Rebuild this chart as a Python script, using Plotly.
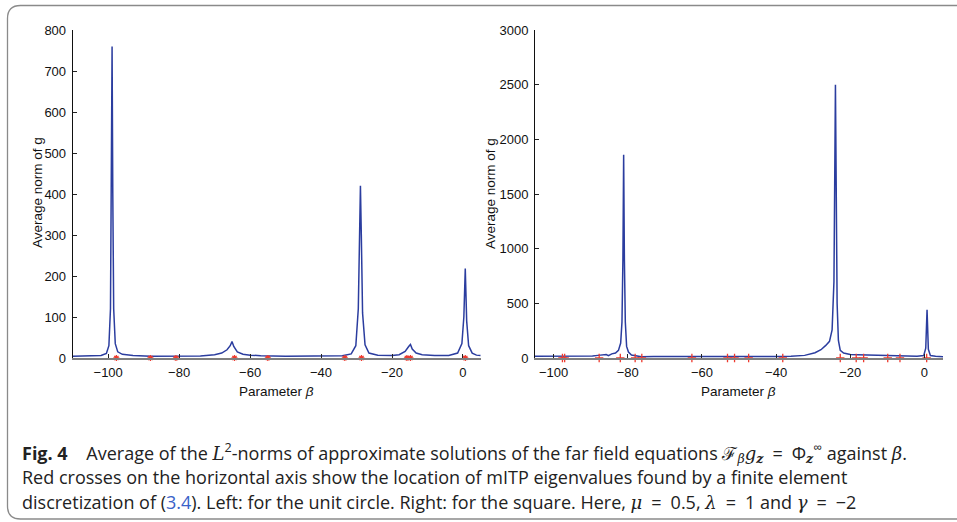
import plotly.graph_objects as go

W, H = 957, 522

# ---------------- data ----------------
left_beta = [-110, -105, -102, -100.5, -99.8, -99.35, -99.1, -98.9, -98.7, -98.45, -98.0, -97.3, -96, -93, -88,
             -80, -74, -70, -68, -66.5, -65.6, -65.1, -64.6, -63.6, -62, -60, -57, -50, -40, -34, -31.5,
             -30.2, -29.5, -29.15, -28.9, -28.65, -28.3, -27.6, -26.5, -24, -20, -18, -16.3, -15.3,
             -14.8, -14.3, -13.2, -11.5, -8, -4, -1.5, -0.3, 0.25, 0.65, 1.05, 1.6, 2.6, 3.8, 5]
left_norm = [4, 4.5, 6, 11, 30, 120, 400, 760, 400, 120, 35, 15, 9, 6, 4.5,
             4, 5, 8, 12, 20, 30, 40, 28, 15, 9, 7, 5.5, 4.5, 4.5, 5.5, 10,
             30, 120, 300, 420, 300, 110, 32, 12, 7, 6, 8, 16, 28,
             33, 22, 12, 8, 6, 6, 12, 35, 100, 218, 90, 30, 12, 7, 6]
left_eig = [-97.7, -88.1, -80.9, -64.4, -55.0, -33.3, -28.6, -15.8, -14.8, 0.65]

right_beta = [-105, -100, -95, -91, -89.5, -88, -86.8, -85.8, -85.2, -84.3, -83.3, -82.5, -81.9, -81.55,
              -81.3, -81.1, -80.9, -80.65, -80.3, -79.8, -79, -78, -76.3, -73, -68, -60, -52, -46,
              -40, -36, -32.3, -29.5, -27.9, -26.6, -25.6, -24.9, -24.4, -24.0, -23.8, -23.55,
              -23.2, -22.7, -21.8, -20, -18, -16.4, -13, -10.2, -7, -4.8, -2, -0.2, 0.35, 0.7,
              1.05, 1.6, 3, 5]
right_norm = [15, 14, 15, 14, 18, 24, 30, 32, 22, 38, 46, 70, 137, 330,
              900, 1860, 900, 330, 106, 55, 28, 20, 12, 14, 13, 14, 12, 13,
              14, 17, 24, 48, 76, 115, 152, 256, 700, 2500, 1500, 500,
              160, 70, 45, 32, 30, 28, 24, 20, 17, 15, 16, 22, 90, 440,
              80, 22, 15, 12]
right_eig = [-97.6, -97.0, -87.7, -82.0, -78.0, -76.2, -62.7, -53.1, -51.2, -47.4, -38.2,
             -22.7, -18.4, -16.4, -9.9, -6.6, 0.6]

left_yticks = [0, 100, 200, 300, 400, 500, 600, 700, 800]
right_yticks = [0, 500, 1000, 1500, 2000, 2500, 3000]
x_ticks = [-100, -80, -60, -40, -20, 0]

# ---------------- figure ----------------
LINE = '#2b3d9f'
RED = '#ee3a2e'
AX_FONT = dict(family='Liberation Sans', size=13, color='#111')

fig = go.Figure()
fig.add_trace(go.Scatter(x=left_beta, y=left_norm, mode='lines', line=dict(color=LINE, width=1.5),
                         xaxis='x', yaxis='y', showlegend=False, hoverinfo='skip'))
fig.add_trace(go.Scatter(x=left_eig, y=[0] * len(left_eig), mode='markers',
                         marker=dict(symbol='asterisk-open', size=5, color=RED, line=dict(color=RED, width=1.3)),
                         xaxis='x', yaxis='y', showlegend=False, cliponaxis=False))
fig.add_trace(go.Scatter(x=right_beta, y=right_norm, mode='lines', line=dict(color=LINE, width=1.5),
                         xaxis='x2', yaxis='y2', showlegend=False, hoverinfo='skip'))
fig.add_trace(go.Scatter(x=right_eig, y=[0] * len(right_eig), mode='markers',
                         marker=dict(symbol='cross-thin-open', size=6, color=RED, line=dict(color=RED, width=1.3)),
                         xaxis='x2', yaxis='y2', showlegend=False, cliponaxis=False))


def px_x(p):
    return p / W


def px_y(p):
    return 1 - p / H


ydom = [px_y(358), px_y(30)]

common_x = dict(showgrid=False, zeroline=False, showline=True, linecolor='#7f7f7f', linewidth=2,
                ticks='inside', ticklen=4, tickcolor='#222', tickwidth=1, tickvals=x_ticks,
                tickfont=AX_FONT, automargin=False, ticklabelstandoff=1)
common_y = dict(showgrid=False, zeroline=False, showline=True, linecolor='#111', linewidth=1,
                ticks='inside', ticklen=4, tickcolor='#222', tickwidth=1, tickfont=AX_FONT,
                domain=ydom, automargin=False, ticklabelstandoff=3)

fig.update_layout(
    template='none',
    width=W, height=H, margin=dict(l=0, r=0, t=0, b=0, pad=0), autosize=False,
    paper_bgcolor='white', plot_bgcolor='white',
    xaxis=dict(common_x, domain=[px_x(72.7), px_x(480.7)], range=[-110, 5], anchor='y'),
    yaxis=dict(common_y, range=[0, 800], tickvals=left_yticks, anchor='x'),
    xaxis2=dict(common_x, domain=[px_x(535), px_x(943)], range=[-105, 5], anchor='y2'),
    yaxis2=dict(common_y, range=[0, 3000], tickvals=right_yticks, anchor='x2'),
)

ann = []
TITLE_FONT = dict(family='Liberation Sans', size=13.5, color='#111')


def label(x, y, text, angle=0, font=TITLE_FONT, xanchor='center'):
    ann.append(dict(x=px_x(x), y=px_y(y), text=text, textangle=angle, showarrow=False,
                    xanchor=xanchor, yanchor='middle', xref='paper', yref='paper', font=font))


label(276, 391, 'Parameter <i>β</i>')
label(738, 391, 'Parameter <i>β</i>')
label(37, 193, 'Average norm of g', angle=-90)
label(490, 193, 'Average norm of g', angle=-90)


def m(s):
    return f'<span style="font-family:DejaVu Serif"><i>{s}</i></span>'


EQ = '\u2002=\u2002'
CAP = dict(family='Open Sans', size=18, color='#222')
lines = [
    '<b>Fig. 4</b>    Average of the ' + m('L') + '<sup>2</sup>-norms of approximate solutions of the far field equations '
    'ℱ<sub>' + m('β') + '</sub>' + m('g') + '<sub><b>' + m('z') + '</b></sub>' + EQ + 'Φ<sub><b>' + m('z') +
    '</b></sub><sup>∞</sup> against ' + m('β') + '.',
    'Red crosses on the horizontal axis show the location of mITP eigenvalues found by a finite element',
    'discretization of (<span style="color:#3a62c9">3.4</span>). Left: for the unit circle. Right: for the square. '
    'Here, ' + m('μ') + EQ + '0.5, ' + m('λ') + EQ + '1 and ' + m('γ') + EQ + '−2',
]
for i, t in enumerate(lines):
    label(20, 452 + 25 * i, t, font=CAP, xanchor='left')
fig.update_layout(annotations=ann)

# rounded frame (open to the right, as in the reference)
r = 13
x0, y0, y1 = 7.5, 5.5, 519
path = (f'M {px_x(W + 5)},{px_y(y0)} L {px_x(x0 + r)},{px_y(y0)} '
        f'Q {px_x(x0)},{px_y(y0)} {px_x(x0)},{px_y(y0 + r)} '
        f'L {px_x(x0)},{px_y(y1 - r)} Q {px_x(x0)},{px_y(y1)} {px_x(x0 + r)},{px_y(y1)} '
        f'L {px_x(W + 5)},{px_y(y1)}')
fig.add_shape(type='path', path=path, xref='paper', yref='paper', line=dict(color='#8a8a8a', width=1.3))

fig.write_html('out.html', config={'displayModeBar': False, 'staticPlot': True},
               post_script="document.body.style.margin='0px';document.body.style.overflow='hidden';")
